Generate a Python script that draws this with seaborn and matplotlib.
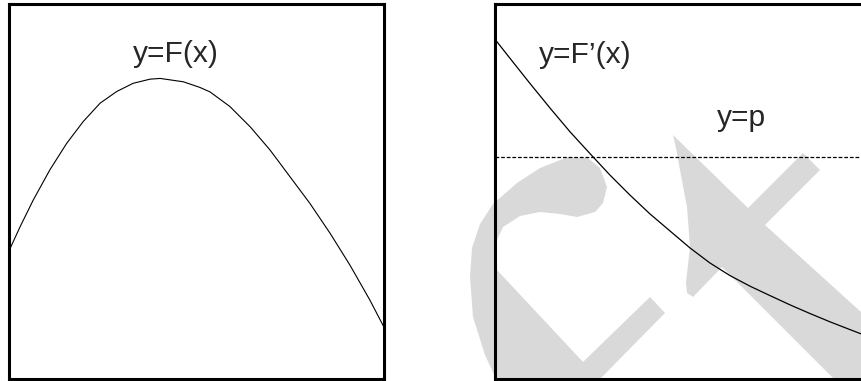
import matplotlib
matplotlib.use("Agg")
import matplotlib.pyplot as plt
from matplotlib.patches import Polygon
import pandas as pd
import seaborn as sns

# values (both panels use a 0..10 box)
F_x = [0.00, 0.29, 0.64, 1.08, 1.53, 1.97, 2.42, 2.86, 3.30, 3.75, 4.02,
       4.64, 5.08, 5.35, 5.88, 6.42, 6.95, 7.48, 8.01, 8.55, 9.08, 9.61, 10.0]
F_y = [3.43, 4.06, 4.77, 5.57, 6.28, 6.86, 7.35, 7.66, 7.88, 7.99, 8.01,
       7.92, 7.77, 7.65, 7.26, 6.72, 6.10, 5.39, 4.68, 3.88, 3.03, 2.10, 1.35]

dF_x = [0.00, 0.41, 0.95, 1.48, 2.01, 2.55, 3.08, 3.61, 4.14, 4.68,
        5.21, 5.74, 6.28, 6.81, 7.34, 7.88, 8.41, 8.94, 9.48, 10.0]
dF_y = [9.07, 8.55, 7.87, 7.22, 6.59, 6.00, 5.43, 4.90, 4.40, 3.94,
        3.49, 3.09, 2.75, 2.47, 2.22, 1.97, 1.74, 1.52, 1.31, 1.11]

p_level = 5.92

left_label = "y=F(x)"
right_label = "y=F\u2019(x)"
p_label = "y=p"

# light grey watermark in the background (pixel coords of the 861x381 image)
wm_c = [(470, 277), (472, 248), (480, 224), (493, 204), (517, 183), (540, 168),
        (568, 157), (588, 158), (600, 168), (607, 187), (603, 203), (595, 212),
        (577, 217), (560, 214), (540, 212), (520, 216), (503, 227), (497, 240),
        (497, 270), (583, 362), (650, 297), (665, 313), (598, 381), (497, 381),
        (485, 355), (473, 317)]
wm_x = [(673, 135), (748, 208), (803, 153), (820, 170), (765, 225), (861, 312),
        (861, 381), (836, 381), (722, 267), (693, 297), (687, 293), (686, 283),
        (690, 247), (687, 207), (680, 170), (676, 148)]

sns.set_style("white")
plt.rcParams["font.family"] = ["Liberation Sans", "DejaVu Sans"]

W, H = 861, 381
fig = plt.figure(figsize=(W / 100, H / 100), dpi=100)

for shape in (wm_c, wm_x):
    pts = [(x / W, 1 - y / H) for x, y in shape]
    fig.add_artist(Polygon(pts, closed=True, transform=fig.transFigure,
                           facecolor="#d9d9d9", edgecolor="none", zorder=-1))

ax1 = fig.add_axes([9.3 / W, 1 - 378.8 / H, 375.2 / W, 375 / H])
ax2 = fig.add_axes([494.5 / W, 1 - 378.8 / H, 375.2 / W, 375 / H])

df_F = pd.DataFrame({"x": F_x, "y": F_y})
df_dF = pd.DataFrame({"x": dF_x, "y": dF_y})

sns.lineplot(data=df_F, x="x", y="y", ax=ax1, color="black", lw=0.8)
sns.lineplot(data=df_dF, x="x", y="y", ax=ax2, color="black", lw=0.9)
ax2.axhline(p_level, color="black", lw=0.9, linestyle=(0, (3, 1.5)))

ax1.text(4.44, 8.45, left_label, ha="center", va="baseline", fontsize=21.5)
ax2.text(2.41, 8.41, right_label, ha="center", va="baseline", fontsize=21.5)
ax2.text(6.57, 6.74, p_label, ha="center", va="baseline", fontsize=21.5)

for ax in (ax1, ax2):
    ax.set_xlim(0, 10)
    ax.set_ylim(0, 10)
    ax.set_facecolor("none")
    ax.set_xticks([])
    ax.set_yticks([])
    ax.set_xlabel("")
    ax.set_ylabel("")
    for sp in ax.spines.values():
        sp.set_visible(True)
        sp.set_color("black")
        sp.set_linewidth(2.2)

fig.savefig("out.png", dpi=100)
